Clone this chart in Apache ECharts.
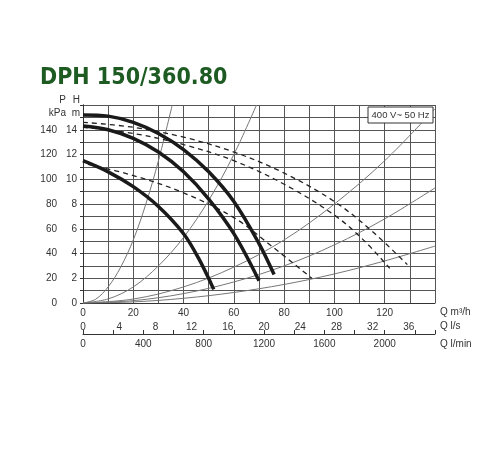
<!DOCTYPE html>
<html>
<head>
<meta charset="utf-8">
<script src="https://cdn.jsdelivr.net/npm/echarts@6/dist/echarts.min.js"></script>
<style>html,body{margin:0;background:#fff}#chart{width:500px;height:450px}</style>
</head>
<body>
<div id="chart"></div>
<script>
// pump curves, [Q m3/h, H m]
let pumpHigh = [[0,15.2],[10,15.1],[20,14.6],[30,13.7],[40,12.4],[50,10.6],[60,8.2],[70,4.8],[76,2.3]];
let pumpMid = [[0,14.3],[10,14.0],[20,13.3],[30,12.2],[40,10.6],[50,8.4],[60,5.6],[70,1.8]];
let pumpLow = [[0,11.5],[10,10.6],[20,9.4],[30,7.8],[40,5.6],[46,3.6],[52,1.1]];
// dashed curves
let dashHigh = [[0,14.6],[20,14.2],[40,13.4],[60,12.2],[80,10.5],[100,8.2],[115,5.8],[129,3.1]];
let dashMid = [[0,14.2],[20,13.7],[40,12.8],[60,11.5],[80,9.6],[100,7.1],[112,5.0],[122,2.8]];
let dashLow = [[2,11.2],[20,10.3],[40,8.9],[60,6.9],[75,4.6],[91,2.0]];
// system curves
let sys1 = [[0,0],[5,0.3],[10,1.3],[15,2.9],[20,5.1],[25,8.0],[30,11.5],[35.5,16]];
let sys2 = [[0,0],[10,0.33],[20,1.3],[30,3.0],[40,5.3],[50,8.3],[60,12.0],[69,16]];
let sys3 = [[0,0],[20,0.32],[40,1.3],[60,2.9],[80,5.1],[100,8.0],[120,11.5],[140,15.7]];
let sys4 = [[0,0],[20,0.19],[40,0.76],[60,1.7],[80,3.0],[100,4.7],[120,6.8],[140,9.3]];
let sys5 = [[0,0],[20,0.09],[40,0.38],[60,0.85],[80,1.5],[100,2.35],[120,3.4],[140,4.6]];

let lab = {color: '#333', fontSize: 10, fontFamily: 'Liberation Sans'};

let line = function (data, width, type, color) {
    return {
        type: 'line', data: data, smooth: 0.35, symbol: 'none', xAxisIndex: 0, yAxisIndex: 0,
        lineStyle: {width: width, type: type, color: color}, silent: true
    };
}

let txt = function (x, y, text, align, size) {
    return {type: 'text', x: x, y: y, z: 10, style: {text: text, align: align || 'left', verticalAlign: 'middle',
        fontSize: size || 10, lineHeight: 12, fill: '#333', fontFamily: 'Liberation Sans'}};
}

let option = {
    animation: false,
    title: {
        text: 'DPH 150/360.80', left: 35, top: 62,
        textStyle: {color: '#1d5b22', fontSize: 23, fontWeight: 'bold', fontFamily: 'DejaVu Sans Condensed'}
    },
    graphic: [
        {type: 'rect', x: 368, y: 107, z: 9, shape: {x: 0, y: 0, width: 65, height: 16}, style: {fill: '#fff', stroke: '#333', lineWidth: 1}},
        txt(400.5, 115.5, '400 V~ 50 Hz', 'center', 9.5),
        txt(440, 312, 'Q m³/h'),
        txt(440, 326, 'Q l/s'),
        txt(440, 344, 'Q l/min'),
        txt(66, 100, 'P', 'right'),
        txt(66, 113, 'kPa', 'right'),
        txt(80, 100, 'H', 'right'),
        txt(80, 113, 'm', 'right')
    ],
    grid: {left: 83, right: 65, top: 105, bottom: 147},
    xAxis: [
        {
            type: 'value', min: 0, max: 140, interval: 10, position: 'bottom',
            axisLine: {lineStyle: {color: '#333'}}, axisTick: {show: false},
            splitLine: {lineStyle: {color: '#555', width: 1}},
            axisLabel: Object.assign({margin: 5, formatter: v => (v % 20 === 0 && v < 140) ? v : ''}, lab)
        },
        {
            type: 'value', min: 0, max: 140 / 3.6, interval: 4, position: 'bottom', offset: 14,
            axisLine: {show: false}, axisTick: {show: false}, splitLine: {show: false},
            axisLabel: Object.assign({margin: 5, formatter: v => v <= 36 ? v : ''}, lab)
        },
        {
            type: 'value', min: 0, max: 140 * 1000 / 60, interval: 200, position: 'bottom', offset: 31,
            axisLine: {show: true, lineStyle: {color: '#333'}},
            axisTick: {show: true, inside: true, length: 4, lineStyle: {color: '#333'}},
            splitLine: {show: false},
            axisLabel: Object.assign({margin: 5, formatter: v => (v % 400 === 0 && v <= 2000) ? v : ''}, lab)
        }
    ],
    yAxis: [
        {
            type: 'value', min: 0, max: 16, interval: 1, position: 'left',
            axisLine: {show: true, lineStyle: {color: '#333'}}, axisTick: {show: false},
            splitLine: {lineStyle: {color: '#555', width: 1}},
            axisLabel: Object.assign({margin: 6, formatter: v => (v % 2 === 0 && v < 16) ? v : ''}, lab)
        },
        {
            type: 'value', min: 0, max: 160, interval: 10, position: 'left', offset: 23,
            axisLine: {show: true, lineStyle: {color: '#333'}},
            axisTick: {show: true, length: 3, lineStyle: {color: '#333'}},
            splitLine: {show: false},
            axisLabel: Object.assign({margin: 3, formatter: v => (v % 20 === 0 && v < 160) ? v : ''}, lab)
        }
    ],
    series: [
        line(sys1, 1, 'solid', '#777'),
        line(sys2, 1, 'solid', '#777'),
        line(sys3, 1, 'solid', '#777'),
        line(sys4, 1, 'solid', '#777'),
        line(sys5, 1, 'solid', '#777'),
        line(dashHigh, 1.3, [5, 4], '#222'),
        line(dashMid, 1.3, [5, 4], '#222'),
        line(dashLow, 1.3, [5, 4], '#222'),
        line(pumpHigh, 3.5, 'solid', '#1a1a1a'),
        line(pumpMid, 3.5, 'solid', '#1a1a1a'),
        line(pumpLow, 3.5, 'solid', '#1a1a1a')
    ]
};

let chart = echarts.init(document.getElementById('chart'));
chart.setOption(option);
</script>
</body>
</html>
